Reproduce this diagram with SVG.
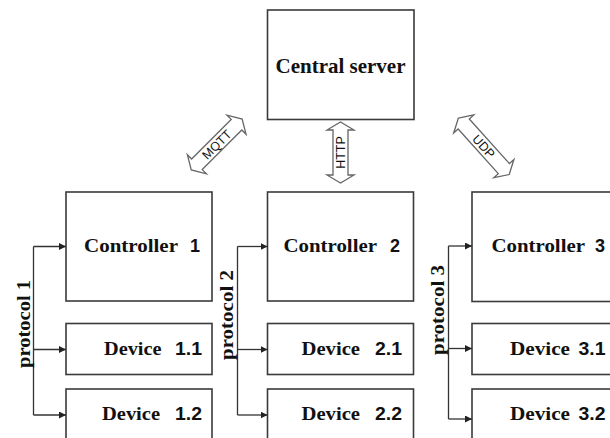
<svg xmlns="http://www.w3.org/2000/svg" width="610" height="438" viewBox="0 0 610 438">
<defs>
<style>
.box{fill:#fff;stroke:#3a3a3a;stroke-width:1.6}
.lbl{font-family:"Liberation Serif","Times New Roman",serif;font-weight:bold;fill:#111}
.num{font-family:"Liberation Sans",Arial,sans-serif;font-weight:bold}
.big{fill:#fff;stroke:#666;stroke-width:1.3;stroke-linejoin:miter}
.proto{font-family:"Liberation Sans",Arial,sans-serif;font-size:12.5px;fill:#111;text-anchor:middle}
.wire{fill:none;stroke:#333;stroke-width:1.3}
</style>
<marker id="ah" viewBox="0 0 10 10" refX="10" refY="5" markerWidth="7" markerHeight="7" markerUnits="userSpaceOnUse" orient="auto">
<path d="M0,0 L10,5 L0,10 Z" fill="#222"/>
</marker>
</defs>
<rect width="610" height="438" fill="#fff"/>

<g id="central-server">
<rect class="box" x="267.5" y="10" width="146.5" height="109.5"/>
<text class="lbl" x="340.5" y="73" font-size="21" text-anchor="middle">Central server</text>
</g>

<g id="controller-1">
<rect class="box" x="66" y="192" width="146" height="109"/>
<text class="lbl" y="252" font-size="19"><tspan x="84" textLength="94" lengthAdjust="spacingAndGlyphs">Controller</tspan><tspan class="num" x="190" font-size="18">1</tspan></text>
</g>
<g id="device-1-1">
<rect class="box" x="66" y="323.5" width="146" height="51"/>
<text class="lbl" y="355" font-size="19"><tspan x="104" textLength="57.5" lengthAdjust="spacingAndGlyphs">Device</tspan><tspan class="num" x="175" font-size="18" textLength="27" lengthAdjust="spacingAndGlyphs">1.1</tspan></text>
</g>
<g id="device-1-2">
<rect class="box" x="66" y="389" width="146" height="60"/>
<text class="lbl" y="420" font-size="19"><tspan x="102" textLength="58" lengthAdjust="spacingAndGlyphs">Device</tspan><tspan class="num" x="175" font-size="18" textLength="27" lengthAdjust="spacingAndGlyphs">1.2</tspan></text>
</g>

<g id="controller-2">
<rect class="box" x="267.5" y="192" width="146" height="109"/>
<text class="lbl" y="252" font-size="19"><tspan x="283.5" textLength="93.5" lengthAdjust="spacingAndGlyphs">Controller</tspan><tspan class="num" x="390" font-size="18">2</tspan></text>
</g>
<g id="device-2-1">
<rect class="box" x="267.5" y="323.5" width="146" height="51"/>
<text class="lbl" y="355" font-size="19"><tspan x="301.5" textLength="58.5" lengthAdjust="spacingAndGlyphs">Device</tspan><tspan class="num" x="375" font-size="18" textLength="27" lengthAdjust="spacingAndGlyphs">2.1</tspan></text>
</g>
<g id="device-2-2">
<rect class="box" x="267.5" y="389" width="146" height="60"/>
<text class="lbl" y="420" font-size="19"><tspan x="301.5" textLength="58.5" lengthAdjust="spacingAndGlyphs">Device</tspan><tspan class="num" x="375" font-size="18" textLength="27" lengthAdjust="spacingAndGlyphs">2.2</tspan></text>
</g>

<g id="controller-3">
<rect class="box" x="472" y="192" width="146" height="109.5"/>
<text class="lbl" y="252" font-size="19"><tspan x="491.5" textLength="93.5" lengthAdjust="spacingAndGlyphs">Controller</tspan><tspan class="num" x="595" font-size="18">3</tspan></text>
</g>
<g id="device-3-1">
<rect class="box" x="472" y="323.5" width="146" height="51"/>
<text class="lbl" y="355" font-size="19"><tspan x="510" textLength="60" lengthAdjust="spacingAndGlyphs">Device</tspan><tspan class="num" x="578.5" font-size="18" textLength="27" lengthAdjust="spacingAndGlyphs">3.1</tspan></text>
</g>
<g id="device-3-2">
<rect class="box" x="472" y="389" width="146" height="60"/>
<text class="lbl" y="420" font-size="19"><tspan x="510" textLength="60" lengthAdjust="spacingAndGlyphs">Device</tspan><tspan class="num" x="578.5" font-size="18" textLength="27" lengthAdjust="spacingAndGlyphs">3.2</tspan></text>
</g>

<g id="connectors">
<g id="link-mqtt" transform="translate(216.7,144.5) rotate(-45)">
<path class="big" d="M-36,0 L-28,-13.5 L-28,-7.5 L28,-7.5 L28,-13.5 L36,0 L28,13.5 L28,7.5 L-28,7.5 L-28,13.5 Z"/>
<text class="proto" x="0" y="4.5">MQTT</text>
</g>
<g id="link-http" transform="translate(340.5,152.5) rotate(-90)">
<path class="big" d="M-30.5,0 L-22.5,-13.5 L-22.5,-7.5 L22.5,-7.5 L22.5,-13.5 L30.5,0 L22.5,13.5 L22.5,7.5 L-22.5,7.5 L-22.5,13.5 Z"/>
<text class="proto" x="0" y="4.5">HTTP</text>
</g>
<g id="link-udp" transform="translate(483.8,146.3) rotate(48)">
<path class="big" d="M-38,0 L-30,-13.5 L-30,-7.5 L30,-7.5 L30,-13.5 L38,0 L30,13.5 L30,7.5 L-30,7.5 L-30,13.5 Z"/>
<text class="proto" x="0" y="4.5">UDP</text>
</g>

<g id="protocol-1">
<path class="wire" d="M33.5,246.5 V415"/>
<path class="wire" d="M33.5,246.5 H66" marker-end="url(#ah)"/>
<path class="wire" d="M33.5,349.5 H66" marker-end="url(#ah)"/>
<path class="wire" d="M33.5,415 H66" marker-end="url(#ah)"/>
<text class="lbl" font-size="18" text-anchor="middle" textLength="88" lengthAdjust="spacingAndGlyphs" transform="translate(29.5,324) rotate(-90)">protocol 1</text>
</g>
<g id="protocol-2">
<path class="wire" d="M237.5,246.5 V415"/>
<path class="wire" d="M237.5,246.5 H267.5" marker-end="url(#ah)"/>
<path class="wire" d="M237.5,349.5 H267.5" marker-end="url(#ah)"/>
<path class="wire" d="M237.5,415 H267.5" marker-end="url(#ah)"/>
<text class="lbl" font-size="18" text-anchor="middle" textLength="90" lengthAdjust="spacingAndGlyphs" transform="translate(233,315) rotate(-90)">protocol 2</text>
</g>
<g id="protocol-3">
<path class="wire" d="M448.5,246 V419"/>
<path class="wire" d="M448.5,246 H472" marker-end="url(#ah)"/>
<path class="wire" d="M448.5,348.5 H472" marker-end="url(#ah)"/>
<path class="wire" d="M448.5,419 H472" marker-end="url(#ah)"/>
<text class="lbl" font-size="18" text-anchor="middle" textLength="90" lengthAdjust="spacingAndGlyphs" transform="translate(443.5,310) rotate(-90)">protocol 3</text>
</g>
</g>
</svg>
